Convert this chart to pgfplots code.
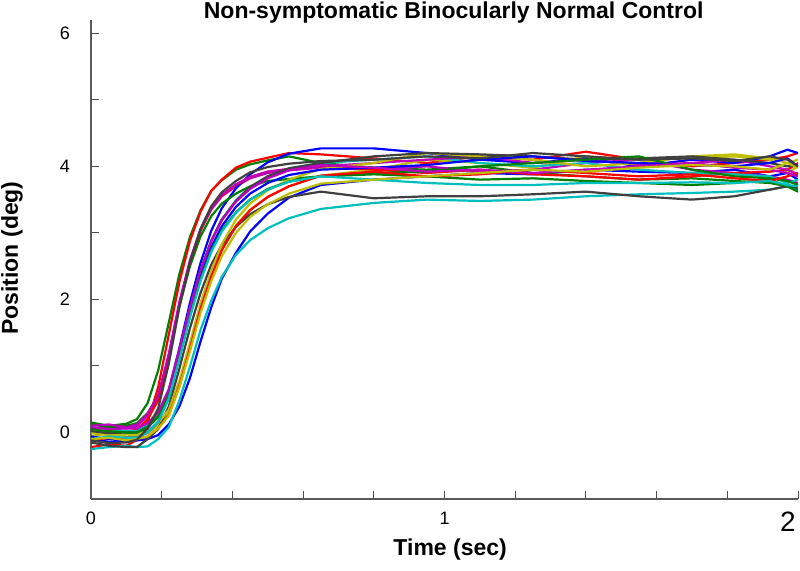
\documentclass[border=0pt]{standalone}
\usepackage{pgfplots}
\usepackage{pgfplotstable}
\usepackage{fontspec}
\setmainfont{Liberation Sans}
\pgfplotsset{compat=1.18}
\definecolor{trB}{rgb}{0,0,1}
\definecolor{trG}{rgb}{0,0.5,0}
\definecolor{trR}{rgb}{1,0,0}
\definecolor{trC}{rgb}{0,0.75,0.75}
\definecolor{trM}{rgb}{0.75,0,0.75}
\definecolor{trY}{rgb}{0.75,0.75,0}
\definecolor{trK}{rgb}{0.25,0.25,0.25}
\pgfplotstableread{
t a1 a2 a3 a4 a5 a6 a7 a8 a9 a10 a11 a12 a13 a14 a15 a16 a17 a18 a19 a20 a21
0 -0.10 0.15 -0.22 -0.25 0.05 -0.05 -0.15 0.00 0.12 0.02 0.00 0.10 0.00 0.02 -0.06 0.05 -0.12 -0.10 0.08 -0.10 -0.12
0.05 -0.14 0.10 -0.18 -0.22 0.08 -0.02 -0.20 -0.03 0.08 -0.02 0.03 0.12 -0.04 -0.01 -0.10 0.02 -0.08 -0.06 0.05 -0.08 -0.16
0.1 -0.12 0.13 -0.20 -0.20 0.06 -0.06 -0.22 -0.01 0.10 0.01 0.02 0.08 -0.02 0.00 -0.08 0.00 -0.10 -0.08 0.06 -0.12 -0.15
0.13 -0.12 0.20 -0.11 -0.22 0.09 -0.05 -0.22 -0.02 0.14 0.04 0.02 0.12 -0.02 0.00 -0.08 0.00 -0.10 -0.08 0.06 -0.10 -0.11
0.16 -0.10 0.44 0.15 -0.21 0.25 -0.01 -0.10 0.07 0.29 0.20 0.10 0.28 0.02 0.08 0.00 0.08 -0.06 0.00 0.14 -0.06 0.06
0.19 -0.04 0.93 0.68 -0.10 0.52 0.11 0.05 0.24 0.55 0.48 0.26 0.55 0.14 0.24 0.16 0.23 0.06 0.16 0.30 0.06 0.36
0.22 0.12 1.65 1.47 0.08 1.15 0.31 0.39 0.62 1.15 1.12 0.62 1.18 0.34 0.61 0.52 0.58 0.26 0.51 0.65 0.25 1.03
0.25 0.39 2.38 2.26 0.48 1.94 0.74 0.96 1.27 1.90 1.92 1.23 1.96 0.78 1.22 1.13 1.16 0.70 1.10 1.25 0.68 1.88
0.28 0.82 2.94 2.88 0.99 2.57 1.29 1.57 1.95 2.50 2.56 1.87 2.59 1.35 1.86 1.77 1.77 1.26 1.73 1.88 1.22 2.56
0.31 1.37 3.34 3.32 1.54 3.04 1.89 2.10 2.55 2.95 3.04 2.44 3.06 1.95 2.43 2.34 2.31 1.86 2.28 2.44 1.80 3.06
0.34 1.88 3.63 3.63 1.98 3.35 2.36 2.52 3.03 3.25 3.36 2.88 3.37 2.43 2.88 2.78 2.73 2.34 2.71 2.87 2.27 3.40
0.37 2.31 3.79 3.80 2.34 3.55 2.75 2.82 3.37 3.44 3.56 3.20 3.57 2.83 3.20 3.10 3.04 2.74 3.02 3.19 2.65 3.61
0.41 2.70 3.95 3.98 2.67 3.70 3.11 3.09 3.67 3.59 3.72 3.49 3.73 3.20 3.48 3.39 3.31 3.10 3.30 3.47 3.00 3.78
0.45 3.02 4.03 4.07 2.89 3.82 3.35 3.28 3.88 3.70 3.84 3.69 3.84 3.44 3.69 3.59 3.50 3.34 3.50 3.66 3.24 3.91
0.5 3.29 4.09 4.13 3.07 3.90 3.54 3.43 4.06 3.78 3.92 3.85 3.92 3.64 3.85 3.75 3.66 3.54 3.65 3.82 3.43 3.99
0.56 3.53 4.15 4.20 3.22 3.94 3.70 3.54 4.19 3.81 3.96 3.97 3.96 3.80 3.97 3.87 3.77 3.70 3.77 3.94 3.59 4.04
0.65 3.72 4.05 4.18 3.36 3.98 3.86 3.62 4.27 3.85 4.00 4.05 4.00 3.96 4.05 3.95 3.85 3.86 3.85 4.02 3.74 4.08
0.8 3.80 3.98 4.12 3.45 3.95 3.95 3.52 4.27 3.88 3.95 4.10 4.05 4.05 4.15 3.98 3.90 3.92 3.80 3.98 3.80 4.10
0.95 3.85 3.95 4.05 3.50 4.00 4.10 3.55 4.20 3.85 3.90 4.15 4.10 4.20 4.20 4.02 3.92 3.85 3.75 3.92 3.85 4.15
1.1 3.90 4.00 4.15 3.48 3.92 4.05 3.55 4.10 3.80 3.95 4.05 4.15 4.15 4.18 4.10 4.00 3.88 3.72 3.95 3.90 4.12
1.25 3.88 3.90 4.10 3.50 3.95 3.98 3.58 4.05 3.82 3.88 4.00 4.05 4.10 4.15 4.15 4.05 3.95 3.72 3.90 3.95 4.20
1.4 3.95 3.85 4.22 3.55 4.05 4.15 3.62 4.12 3.78 3.85 4.05 4.10 4.00 4.10 4.08 4.10 3.90 3.75 3.95 3.92 4.15
1.55 3.92 3.80 4.10 3.58 4.10 4.10 3.55 4.00 3.75 3.80 3.95 4.02 4.05 4.12 4.05 4.15 3.85 3.75 4.00 3.98 4.10
1.7 3.90 3.82 4.00 3.60 3.95 4.12 3.50 4.10 3.72 3.85 3.90 4.05 4.15 4.15 4.02 3.95 3.88 3.76 4.05 4.02 4.12
1.82 3.95 3.78 4.05 3.62 3.90 4.15 3.55 4.05 3.75 3.90 3.88 4.10 4.18 4.10 4.00 3.85 3.82 3.75 3.98 4.00 4.08
1.92 3.85 3.75 4.10 3.65 3.85 4.10 3.65 4.15 3.80 3.92 3.85 4.00 4.12 4.05 4.05 3.82 3.78 3.78 3.95 3.95 4.15
1.97 3.90 3.70 4.15 3.70 3.80 3.90 3.70 4.25 3.70 3.95 3.75 3.95 4.05 4.00 4.12 3.78 3.85 3.72 3.90 4.05 4.10
2.0 3.80 3.65 4.20 3.62 3.75 4.00 3.68 4.20 3.62 4.05 3.80 3.88 4.10 4.02 4.00 3.72 3.90 3.70 3.85 3.98 4.00
}\traces
\begin{document}
\begin{tikzpicture}
\begin{axis}[name=ax, at={(0,0)}, anchor=south west,
  scale only axis, width=353.5pt, height=239.5pt,
  xmin=0, xmax=2, ymin=-1, ymax=6.2,
  axis x line*=bottom, axis y line*=left,
  axis line style={black!65, line width=0.6pt},
  tick align=inside,
  xtick={0,1,2}, xticklabels={0,1,},
  minor xtick={0.2,0.4,0.6,0.8,1.2,1.4,1.6,1.8},
  ytick={0,2,4,6}, minor ytick={1,3,5},
  major tick length=4pt, minor tick length=4pt,
  every tick/.style={black!70, line width=0.5pt},
  /pgf/number format/assume math mode=true,
  ticklabel style={font=\fontsize{9}{10}\selectfont},
  yticklabel style={xshift=-7pt},
  xticklabel style={yshift=-3pt},
  every axis plot/.append style={line width=1.1pt, line join=round},
]
\addplot[color=trB] table[x=t,y=a1]{\traces};
\addplot[color=trG] table[x=t,y=a2]{\traces};
\addplot[color=trR] table[x=t,y=a3]{\traces};
\addplot[color=trC] table[x=t,y=a4]{\traces};
\addplot[color=trM] table[x=t,y=a5]{\traces};
\addplot[color=trY] table[x=t,y=a6]{\traces};
\addplot[color=trK] table[x=t,y=a7]{\traces};
\addplot[color=trB] table[x=t,y=a8]{\traces};
\addplot[color=trG] table[x=t,y=a9]{\traces};
\addplot[color=trR] table[x=t,y=a10]{\traces};
\addplot[color=trC] table[x=t,y=a11]{\traces};
\addplot[color=trM] table[x=t,y=a12]{\traces};
\addplot[color=trY] table[x=t,y=a13]{\traces};
\addplot[color=trK] table[x=t,y=a14]{\traces};
\addplot[color=trB] table[x=t,y=a15]{\traces};
\addplot[color=trG] table[x=t,y=a16]{\traces};
\addplot[color=trR] table[x=t,y=a17]{\traces};
\addplot[color=trC] table[x=t,y=a18]{\traces};
\addplot[color=trM] table[x=t,y=a19]{\traces};
\addplot[color=trY] table[x=t,y=a20]{\traces};
\addplot[color=trK] table[x=t,y=a21]{\traces};
\end{axis}
\node[anchor=base, font=\fontsize{11.5}{12}\selectfont\bfseries] at ([xshift=0.513*353.5pt, yshift=0.5pt]ax.north west) {Non-symptomatic Binocularly Normal Control};
\node[font=\fontsize{11.5}{12}\selectfont\bfseries] at ([xshift=0.508*353.5pt, yshift=-25.5pt]ax.south west) {Time (sec)};
\node[rotate=90, font=\fontsize{11.5}{12}\selectfont\bfseries] at ([xshift=-39.5pt, yshift=0.503*239.5pt]ax.south west) {Position (deg)};
\node[font=\fontsize{14}{14}\selectfont] at ([xshift=-5pt, yshift=-11.5pt]ax.south east) {2};
\pgfresetboundingbox
\useasboundingbox ([shift={(-45.5pt,-36pt)}]ax.south west) rectangle ([shift={(1pt,10pt)}]ax.north east);
\end{tikzpicture}
\end{document}
